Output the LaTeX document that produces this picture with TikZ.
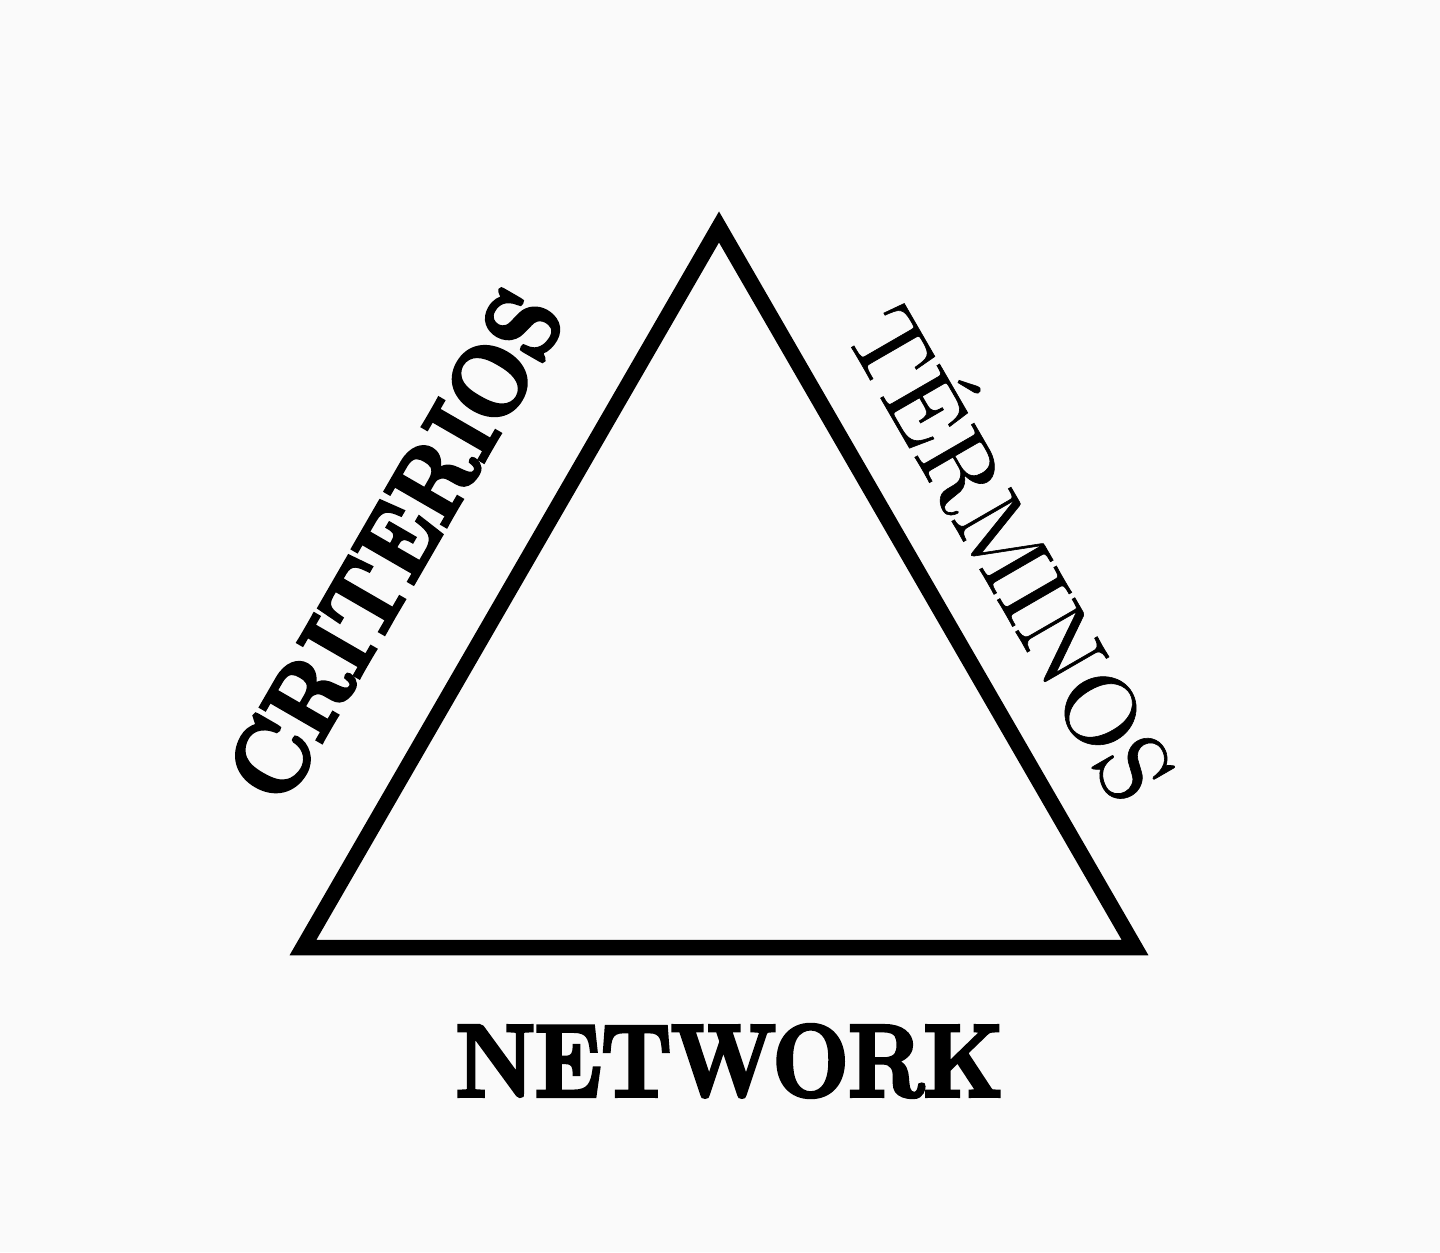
\documentclass[tikz,border=0pt]{standalone}
\usepackage{fontspec}
\usepackage{tikz}
\newfontfamily\heavyfont[FakeBold=4, FakeStretch=0.88]{Latin Modern Roman}
\newfontfamily\thinfont[FakeBold=0.6]{lmroman10-regular.otf}

\begin{document}
\begin{tikzpicture}[
    side/.style={line width=0.155cm, line join=miter},
    heavylabel/.style={inner sep=0pt, font=\heavyfont\bfseries\fontsize{29}{29}\selectfont},
    thinlabel/.style={inner sep=0pt, font=\thinfont\fontsize{28.5}{28.5}\selectfont}
  ]
    % Page
    \fill[white!98!black] (0, 0) rectangle (14.4, 12.52);
    \useasboundingbox (0, 0) rectangle (14.4, 12.52);

    % Corners
    \coordinate (left) at (3.03, 3.045);
    \coordinate (right) at (11.35, 3.045);
    \coordinate (top) at (7.19, 10.25);

    % Triangle
    \draw[side] (left) -- (top) -- (right) -- cycle;

    % Labels
    \node[heavylabel, rotate=60] (criterios) at (3.95, 7.07) {CRITERIOS};
    \node[thinlabel, rotate=-60] (terminos) at (10.19, 7.03) {TÉRMINOS};
    \node[heavylabel] (network) at (7.295, 1.91) {NETWORK};
\end{tikzpicture}
\end{document}
